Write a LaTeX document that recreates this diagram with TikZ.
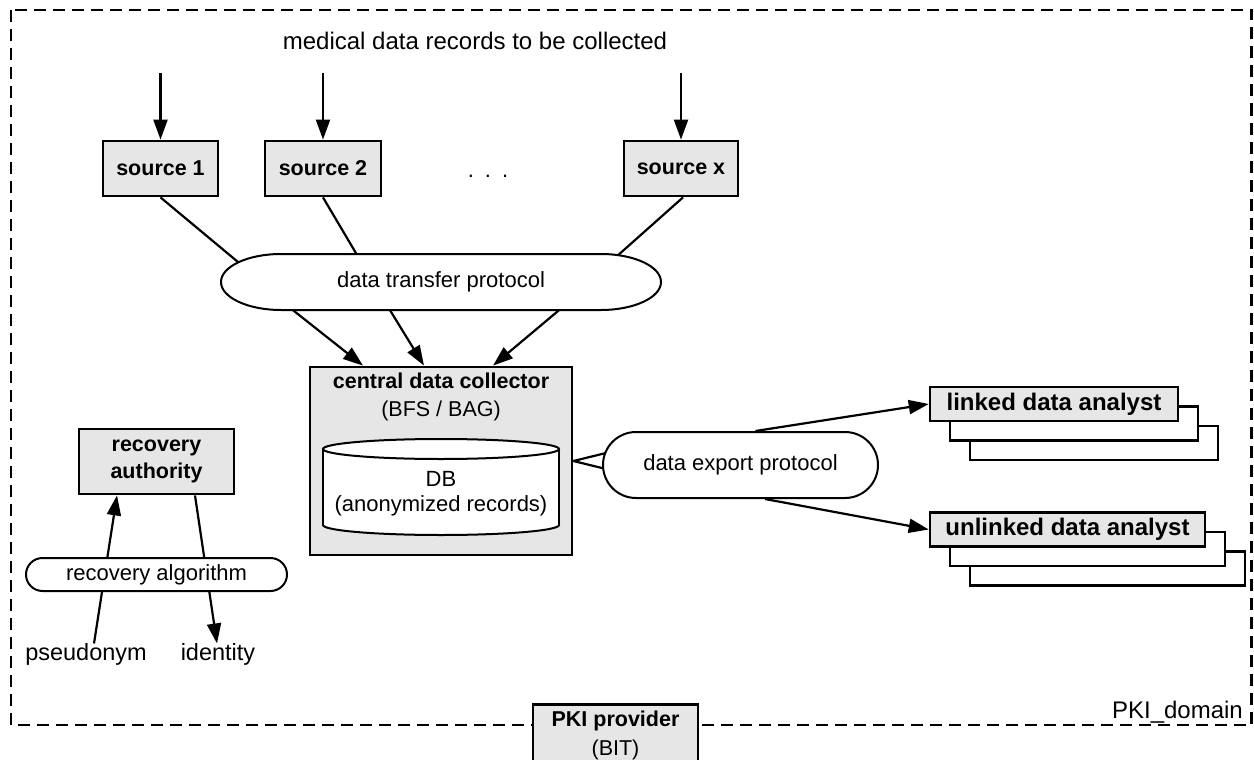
\documentclass[tikz,border=0pt]{standalone}
\usepackage{fontspec}
\setmainfont{Liberation Sans}
\usetikzlibrary{arrows.meta,shapes.misc,backgrounds}
\definecolor{boxgray}{HTML}{E6E6E6}
\begin{document}
\begin{tikzpicture}[x=1pt,y=-1pt,
  box/.style={draw, line width=2.8pt, fill=boxgray, inner sep=0pt, align=center, font=\fontsize{21.5}{26.5}\selectfont\bfseries},
  backbox/.style={draw, line width=2.5pt, fill=white, inner sep=0pt},
  conn/.style={line width=2.2pt},
  arr/.style={conn, -{Triangle[length=20pt,width=14pt]}},
  proto/.style={draw, line width=2pt, fill=white, rounded rectangle, inner sep=0pt, font=\fontsize{22}{26}\selectfont},
  lbl/.style={inner sep=0pt, align=center, font=\fontsize{22}{26}\selectfont},
  domainframe/.style={line width=2.2pt, dash pattern=on 12pt off 7pt}]
\useasboundingbox (0,0) rectangle (1254,760);
\begin{pgfonlayer}{background}
\draw[domainframe] (11,10) rectangle (1251.5,725);
\end{pgfonlayer}

% sources
\node[lbl, anchor=base, font=\fontsize{24}{28}\selectfont] (medical) at (475,50) {medical data records to be collected};
\node[box, minimum width=115pt, minimum height=55pt] (s1) at (160.5,168.5) {source 1};
\node[box, minimum width=116pt, minimum height=55pt] (s2) at (323,168.5) {source 2};
\node[box, minimum width=114pt, minimum height=55pt] (sx) at (681,168.5) {source x};
\node[lbl, anchor=base] (dots) at (488,177) {.\hspace{11pt}.\hspace{11pt}.};
\coordinate (in1) at (160.5,73);
\coordinate (in2) at (323,73);
\coordinate (inx) at (681,73);
\draw[arr] (in1) -- (s1.north);
\draw[arr] (in2) -- (s2.north);
\draw[arr] (inx) -- (sx.north);

% transfer protocol (elongated capsule with elliptic ends)
\draw[line width=2pt, fill=white] (281,254) -- (601,254)
  arc[start angle=-90, end angle=90, x radius=60, y radius=28] -- (281,310)
  arc[start angle=90, end angle=270, x radius=60, y radius=28] -- cycle;
\node[lbl, minimum width=441pt, minimum height=56pt] (dtp) at (441,282) {data transfer protocol};
\begin{pgfonlayer}{background}
\draw[conn] (s1.south) -- ([xshift=-191pt,yshift=10pt]dtp.center);
\draw[conn] (s2.south) -- ([xshift=-78pt,yshift=17pt]dtp.center);
\draw[conn] ([xshift=2pt]sx.south) -- ([xshift=166pt,yshift=17pt]dtp.center);
\end{pgfonlayer}

% central data collector
\node[box, minimum width=262pt, minimum height=188pt] (cdc) at (441,461) {};
\node[lbl, anchor=north, font=\fontsize{21.5}{28}\selectfont] (cdct) at (441,372.5) {\textbf{central data collector}\\(BFS / BAG)};
\draw[arr] ([xshift=-148pt]dtp.south) -- ([xshift=-78pt]cdc.north);
\draw[arr] ([xshift=-51pt]dtp.south) -- ([xshift=-17pt]cdc.north);
\draw[arr] ([xshift=118pt]dtp.south) -- ([xshift=52pt]cdc.north);

% database cylinder
\draw[line width=2pt, fill=white] (441,525) ellipse [x radius=118, y radius=10];
\fill[white] (323,449) rectangle (559,525);
\draw[line width=2pt] (323,449) -- (323,525);
\draw[line width=2pt] (559,449) -- (559,525);
\draw[line width=2pt, fill=white] (441,449) ellipse [x radius=118, y radius=10];
\node[lbl, font=\fontsize{22}{25}\selectfont] (db) at (441,494) {DB\\(anonymized records)};

% export protocol
\node[proto, minimum width=275pt, minimum height=66pt] (exp) at (740.5,465) {data export protocol};
\begin{pgfonlayer}{background}
\draw[conn] (cdc.east) -- ([xshift=4pt,yshift=12pt]exp.west);
\draw[conn] (cdc.east) -- ([xshift=4pt,yshift=-4pt]exp.west);
\end{pgfonlayer}

% analysts
\node[backbox, minimum width=248pt, minimum height=34pt] (la3) at (1094,443) {};
\node[backbox, minimum width=248pt, minimum height=34pt] (la2) at (1074,423.5) {};
\node[box, line width=2.5pt, font=\fontsize{24}{28}\selectfont\bfseries, minimum width=248pt, minimum height=34pt] (la) at (1054,404) {linked data analyst};
\node[backbox, minimum width=275pt, minimum height=34pt] (ula3) at (1107.5,568.5) {};
\node[backbox, minimum width=275pt, minimum height=34pt] (ula2) at (1087.5,549) {};
\node[box, line width=2.5pt, font=\fontsize{24}{28}\selectfont\bfseries, minimum width=275pt, minimum height=34pt] (ula) at (1067.5,529.5) {unlinked data analyst};
\draw[arr] ([xshift=15pt]exp.north) -- (la.west);
\draw[arr] ([xshift=24.5pt]exp.south) -- (ula.west);

% recovery
\node[box, minimum width=155pt, minimum height=65pt] (ra) at (156.5,461.5) {recovery\\authority};
\node[proto, minimum width=261pt, minimum height=33pt] (ralg) at (156.5,574.5) {recovery algorithm};
\node[lbl, anchor=base, font=\fontsize{23.5}{28}\selectfont] (pseu) at (86,660.7) {pseudonym};
\node[lbl, anchor=base, font=\fontsize{23.5}{28}\selectfont] (iden) at (218,660.7) {identity};
\begin{pgfonlayer}{background}
\draw[arr] ([xshift=8pt]pseu.north) -- ([xshift=-39.5pt]ra.south);
\draw[arr] ([xshift=38.5pt]ra.south) -- ([xshift=-1pt]iden.north);
\end{pgfonlayer}

% PKI
\node[box, minimum width=165pt, minimum height=62pt, anchor=north] (pki) at (615.5,703) {};
\node[lbl, anchor=north, font=\fontsize{21.5}{29}\selectfont] (pkit) at (615.5,710.5) {\textbf{PKI provider}\\(BIT)};
\node[lbl, anchor=base east, font=\fontsize{24}{28}\selectfont] (pkid) at (1243,718) {PKI\_domain};
\end{tikzpicture}
\end{document}
